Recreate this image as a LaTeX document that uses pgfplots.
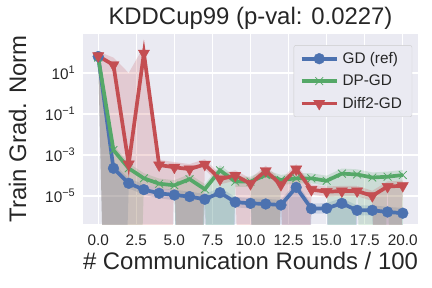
\documentclass[border=0pt]{standalone}
\usepackage{fontspec}
\setmainfont{Liberation Sans}
\usepackage{pgfplots}
\pgfplotsset{compat=1.18}
\definecolor{sbblue}{RGB}{76,114,176}
\definecolor{sbgreen}{RGB}{85,168,104}
\definecolor{sbred}{RGB}{196,78,82}
\definecolor{sbbg}{RGB}{234,234,242}
\definecolor{txt}{RGB}{38,38,38}
\newcommand{\tenpow}[1]{10\raisebox{0.42em}{\fontsize{11}{11}\selectfont #1}}
\begin{document}
\begin{tikzpicture}
\useasboundingbox (-83bp,-64bp) rectangle (349bp,224bp);
\begin{axis}[
  at={(0,0)}, anchor=south west, scale only axis,
  width=335bp, height=190bp,
  xmin=-1, xmax=21, ymode=log, ymin=4.3e-7, ymax=794,
  axis background/.style={fill=sbbg},
  axis line style={draw=none},
  major tick length=0pt, minor tick length=0pt,
  grid=major, grid style={white, line width=1.1bp},
  xtick={0,2.5,5,7.5,10,12.5,15,17.5,20},
  xticklabels={0.0,2.5,5.0,7.5,10.0,12.5,15.0,17.5,20.0},
  ytick={1e-5,1e-3,1e-1,1e1},
  yticklabels={\tenpow{−5},\tenpow{−3},\tenpow{−1},\tenpow{1}},
  ticklabel style={font=\fontsize{15.4}{18}\selectfont, text=txt},
  xticklabel style={anchor=base, yshift=-21bp},
  yticklabel style={anchor=east, xshift=-8bp, inner sep=0pt},
  title={KDDCup99 (p-val: 0.0227)},
  title style={font=\fontsize{24}{28}\selectfont, text=txt, at={(axis description cs:0.5,1.021)}, anchor=base},
  xlabel={\# Communication Rounds / 100},
  xlabel style={font=\fontsize{24}{28}\selectfont, text=txt, at={(axis description cs:0.5,-0.242)}, anchor=base},
  ylabel={Train Grad. Norm},
  ylabel style={font=\fontsize{24}{28}\selectfont, text=txt, at={(axis description cs:-0.170,0.5)}, anchor=base},
  legend cell align=left,
  legend style={at={(axis description cs:0.982,0.94)}, anchor=north east, outer sep=0pt,
    font=\fontsize{15.4}{18}\selectfont, text=txt,
    fill=sbbg, draw=black!20, rounded corners=2bp, row sep=6bp, inner xsep=6bp, inner ysep=5bp,
    nodes={inner xsep=4bp}},
  legend image code/.code={\draw[mark repeat=2,mark phase=2] plot coordinates {(0bp,0bp) (17.5bp,0bp) (35bp,0bp)};},
]
% bands
\addplot[fill=sbblue, fill opacity=0.2, draw=none, forget plot] coordinates {
(0,112) (1,3.98e-4) (2,7.4e-5) (3,3.63e-5) (4,2.4e-5) (5,2.0e-5) (6,1.66e-5) (7,1.23e-5) (8,2.57e-5) (9,8.9e-6) (10,7.8e-6) (11,7.2e-6) (12,6.5e-6) (13,4.7e-5) (14,4.3e-6) (15,4.5e-6) (16,7.8e-6) (17,3.5e-6) (18,3.5e-6) (19,2.95e-6) (20,2.6e-6)
(20,8.1e-7) (19,1e-30) (18,1.12e-6) (17,1.12e-6) (16,1e-30) (15,1.41e-6) (14,1.35e-6) (13,1e-30) (12,2.04e-6) (11,1e-30) (10,2.45e-6) (9,2.8e-6) (8,1e-30) (7,3.9e-6) (6,1e-30) (5,6.3e-6) (4,7.6e-6) (3,1.15e-5) (2,2.34e-5) (1,1e-30) (0,35.5)
} -- cycle;
\addplot[fill=sbgreen, fill opacity=0.2, draw=none, forget plot] coordinates {
(0,100) (1,3.1e-3) (2,3.98e-4) (3,1.29e-4) (4,7.1e-5) (5,5.9e-5) (6,1.17e-4) (7,3.8e-5) (8,3.16e-4) (9,8.9e-5) (10,8.9e-5) (11,1.86e-4) (12,1.07e-4) (13,1.29e-4) (14,1.29e-4) (15,9.8e-5) (16,2.19e-4) (17,2.0e-4) (18,1.41e-4) (19,1.55e-4) (20,1.86e-4)
(20,1e-30) (19,4.9e-5) (18,1e-30) (17,6.3e-5) (16,1e-30) (15,3.1e-5) (14,4.1e-5) (13,4.1e-5) (12,3.4e-5) (11,1e-30) (10,2.8e-5) (9,2.8e-5) (8,1e-30) (7,1.2e-5) (6,1e-30) (5,1.86e-5) (4,2.24e-5) (3,4.1e-5) (2,1e-30) (1,1e-30) (0,31.6)
} -- cycle;
\addplot[fill=sbred, fill opacity=0.2, draw=none, forget plot] coordinates {
(0,112) (1,56) (2,10) (3,200) (4,5.75e-4) (5,4.5e-4) (6,3.6e-4) (7,6.2e-4) (8,1.17e-4) (9,1.78e-4) (10,7.1e-5) (11,3.0e-4) (12,6.3e-5) (13,3.6e-4) (14,3.6e-5) (15,2.9e-5) (16,3.1e-5) (17,3.1e-5) (18,1.8e-5) (19,5.1e-5) (20,5.6e-5)
(20,1.78e-5) (19,1e-30) (18,5.75e-6) (17,9.8e-6) (16,9.8e-6) (15,9.1e-6) (14,1.15e-5) (13,1e-30) (12,2.0e-5) (11,1e-30) (10,1e-30) (9,5.6e-5) (8,3.7e-5) (7,1.95e-4) (6,1e-30) (5,1.41e-4) (4,1e-30) (3,1e-30) (2,1e-30) (1,1e-30) (0,38)
} -- cycle;
% lines
\addplot[sbblue, line width=3.7bp, mark=*, mark size=5.4bp, mark options={solid, line width=0.4bp}] coordinates {
(0,63.1) (1,2.24e-4) (2,4.17e-5) (3,2.04e-5) (4,1.35e-5) (5,1.12e-5) (6,9.33e-6) (7,6.92e-6) (8,1.45e-5) (9,5.01e-6) (10,4.37e-6) (11,4.07e-6) (12,3.63e-6) (13,2.63e-5) (14,2.40e-6) (15,2.51e-6) (16,4.37e-6) (17,2.0e-6) (18,2.0e-6) (19,1.66e-6) (20,1.45e-6)};
\addlegendentry{GD (ref)}
\addplot[sbgreen, line width=3.7bp, mark=x, mark size=5.5bp, mark options={solid, line width=0.8bp}] coordinates {
(0,56.2) (1,1.74e-3) (2,2.24e-4) (3,7.24e-5) (4,3.98e-5) (5,3.31e-5) (6,6.61e-5) (7,2.14e-5) (8,1.78e-4) (9,5.01e-5) (10,5.01e-5) (11,1.05e-4) (12,6.03e-5) (13,7.24e-5) (14,7.24e-5) (15,5.50e-5) (16,1.23e-4) (17,1.12e-4) (18,7.94e-5) (19,8.71e-5) (20,1.05e-4)};
\addlegendentry{DP-GD}
\addplot[sbred, line width=3.7bp, mark=triangle*, mark size=6.5bp, mark options={solid, rotate=180, line width=0.4bp}] coordinates {
(0,67.6) (1,24.5) (2,3.55e-4) (3,91.2) (4,3.24e-4) (5,2.51e-4) (6,2.04e-4) (7,3.47e-4) (8,6.61e-5) (9,1.0e-4) (10,3.98e-5) (11,1.70e-4) (12,3.55e-5) (13,2.04e-4) (14,2.04e-5) (15,1.62e-5) (16,1.74e-5) (17,1.74e-5) (18,1.02e-5) (19,2.88e-5) (20,3.16e-5)};
\addlegendentry{Diff2-GD}
\end{axis}
\end{tikzpicture}
\end{document}
